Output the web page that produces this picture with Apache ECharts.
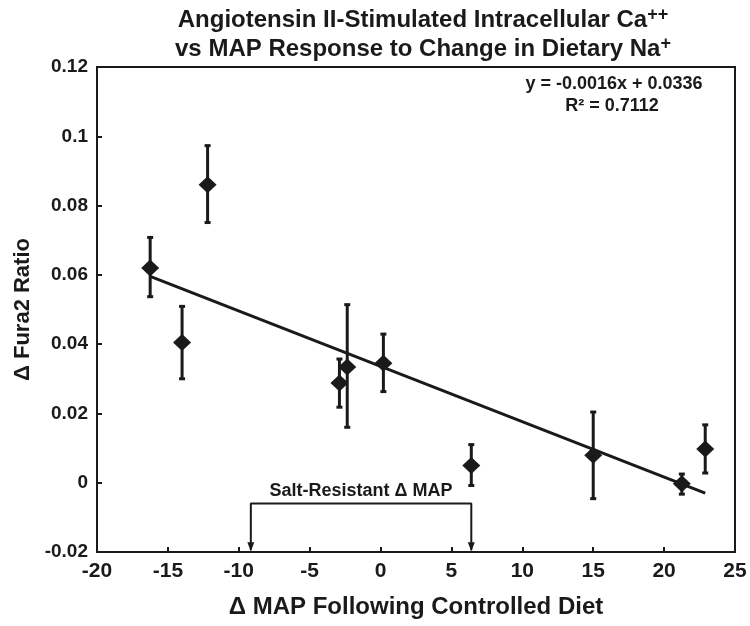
<!DOCTYPE html>
<html><head><meta charset="utf-8">
<script src="https://cdn.jsdelivr.net/npm/echarts@6/dist/echarts.min.js"></script>
<style>html,body{margin:0;padding:0;background:#fff}#c{width:750px;height:626px}</style>
</head><body><div id="c"></div>
<script>
// ---- data ----
const mapChange = [-16.25, -12.2, -14.0, -2.9, -2.35, 0.2, 6.4, 15.0, 21.25, 22.9];
const furaRatio = [0.062, 0.086, 0.0405, 0.0288, 0.0334, 0.0345, 0.005, 0.0079, -0.0003, 0.0097];
const errLow   = [0.0537, 0.0751, 0.030, 0.0218, 0.016, 0.0263, -0.0008, -0.0046, -0.0033, 0.0028];
const errHigh  = [0.0708, 0.0973, 0.0509, 0.0357, 0.0514, 0.0429, 0.011, 0.0204, 0.0025, 0.0167];
const trendX = [-16.2, 22.9];
const trendY = [0.0595, -0.0030];
const bracketX = [-9.15, -9.15, 6.4, 6.4];
const bracketY = [-0.0195, -0.006, -0.006, -0.0195];
const bracketLabel = 'Salt-Resistant \u0394 MAP';
const xTicks = [-20, -15, -10, -5, 0, 5, 10, 15, 20, 25];
const yTicks = [-0.02, 0, 0.02, 0.04, 0.06, 0.08, 0.1, 0.12];
const eqText = 'y = -0.0016x + 0.0336';
const r2Text = 'R\u00b2 = 0.7112';

const INK = '#1a1a1a';
const FONT = "'Liberation Sans',Arial,sans-serif";
const chart = echarts.init(document.getElementById('c'));
const pts = mapChange.map((x, i) => [x, furaRatio[i]]);
const errs = mapChange.map((x, i) => [x, errLow[i], errHigh[i]]);

chart.setOption({
  animation: false,
  title: {
    left: 418, textAlign: 'center', top: 1,
    text: '{a|Angiotensin II-Stimulated Intracellular Ca}{s|++}\n{a|vs MAP Response to Change in Dietary Na}{s|+}',
    textStyle: {
      rich: {
        a: {fontFamily: FONT, fontWeight: 'bold', fontSize: 24, color: INK, lineHeight: 29},
        s: {fontFamily: FONT, fontWeight: 'bold', fontSize: 18, color: INK, lineHeight: 29, verticalAlign: 'top', padding: [0,0,8,0]}
      }
    }
  },
  graphic: [
    {type: 'text', x: 614, y: 84, style: {text: eqText, font: "bold 18px " + FONT, fill: INK, textAlign: 'center', textVerticalAlign: 'middle'}},
    {type: 'text', x: 612, y: 106, style: {text: r2Text, font: "bold 18px " + FONT, fill: INK, textAlign: 'center', textVerticalAlign: 'middle'}}
  ],
  grid: {left: 97, right: 15, top: 67, bottom: 74, show: true, borderColor: INK, borderWidth: 2, backgroundColor: 'transparent'},
  xAxis: {
    type: 'value', min: -20, max: 25, interval: 5,
    name: '\u0394 MAP Following Controlled Diet', nameLocation: 'middle', nameGap: 43,
    nameTextStyle: {fontFamily: FONT, fontWeight: 'bold', fontSize: 24, color: INK},
    axisLine: {onZero: false, lineStyle: {color: INK, width: 2}},
    axisTick: {inside: true, length: 5, lineStyle: {color: INK, width: 2}},
    axisLabel: {fontFamily: FONT, fontWeight: 'bold', fontSize: 21, color: INK, margin: 9,
      formatter: v => xTicks.includes(v) ? String(v) : ''},
    splitLine: {show: false}
  },
  yAxis: {
    type: 'value', min: -0.02, max: 0.12, interval: 0.02,
    name: '\u0394 Fura2 Ratio', nameLocation: 'middle', nameGap: 58,
    nameTextStyle: {fontFamily: FONT, fontWeight: 'bold', fontSize: 22, color: INK},
    axisLine: {onZero: false, lineStyle: {color: INK, width: 2}},
    axisTick: {inside: true, length: 5, lineStyle: {color: INK, width: 2}},
    axisLabel: {fontFamily: FONT, fontWeight: 'bold', fontSize: 19, color: INK, margin: 9,
      formatter: v => { const r = parseFloat(v.toFixed(2)); return yTicks.some(t => Math.abs(t - r) < 1e-9) ? String(r) : ''; }},
    splitLine: {show: false}
  },
  series: [
    {
      type: 'line', data: trendX.map((x, i) => [x, trendY[i]]), symbol: 'none',
      lineStyle: {color: INK, width: 3}, z: 2
    },
    {
      type: 'custom', data: errs, z: 3,
      renderItem: (params, api) => {
        const x = api.value(0);
        const lo = api.coord([x, api.value(1)]);
        const hi = api.coord([x, api.value(2)]);
        const st = {stroke: INK, lineWidth: 3};
        return {type: 'group', children: [
          {type: 'line', shape: {x1: lo[0], y1: lo[1], x2: hi[0], y2: hi[1]}, style: st},
          {type: 'line', shape: {x1: lo[0]-3, y1: lo[1], x2: lo[0]+3, y2: lo[1]}, style: st},
          {type: 'line', shape: {x1: hi[0]-3, y1: hi[1], x2: hi[0]+3, y2: hi[1]}, style: st}
        ]};
      }
    },
    {
      type: 'scatter', data: pts, symbol: 'diamond', symbolSize: [18, 17],
      itemStyle: {color: INK, opacity: 1}, z: 4
    },
    {
      type: 'line', data: bracketX.map((x, i) => [x, bracketY[i]]), symbol: 'none',
      lineStyle: {color: INK, width: 2}, z: 2
    },
    {
      type: 'scatter', data: [[bracketX[0], -0.0185], [bracketX[3], -0.0185]],
      symbol: 'triangle', symbolRotate: 180, symbolSize: [7, 9],
      itemStyle: {color: INK, opacity: 1}, z: 3
    },
    {
      type: 'scatter', data: [[(bracketX[0] + bracketX[3]) / 2, bracketY[1]]], symbolSize: 0,
      itemStyle: {opacity: 1},
      label: {show: true, position: 'top', distance: 3, formatter: bracketLabel,
        fontFamily: FONT, fontWeight: 'bold', fontSize: 18, color: INK}
    }
  ]
});
</script></body></html>
